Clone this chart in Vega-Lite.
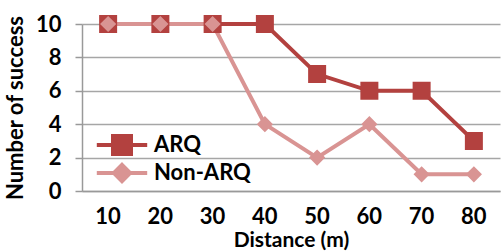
{
  "$schema": "https://vega.github.io/schema/vega-lite/v6.json",
  "width": 418,
  "height": 167,
  "autosize": {"type": "none"},
  "padding": {"left": 82, "top": 24, "right": 4, "bottom": 60},
  "background": "white",
  "config": {
    "view": {"stroke": null},
    "font": "Lato"
  },
  "data": {"values": [
    {"distance": "10", "series": "ARQ", "success": 10},
    {"distance": "20", "series": "ARQ", "success": 10},
    {"distance": "30", "series": "ARQ", "success": 10},
    {"distance": "40", "series": "ARQ", "success": 10},
    {"distance": "50", "series": "ARQ", "success": 7},
    {"distance": "60", "series": "ARQ", "success": 6},
    {"distance": "70", "series": "ARQ", "success": 6},
    {"distance": "80", "series": "ARQ", "success": 3},
    {"distance": "10", "series": "Non-ARQ", "success": 10},
    {"distance": "20", "series": "Non-ARQ", "success": 10},
    {"distance": "30", "series": "Non-ARQ", "success": 10},
    {"distance": "40", "series": "Non-ARQ", "success": 4},
    {"distance": "50", "series": "Non-ARQ", "success": 2},
    {"distance": "60", "series": "Non-ARQ", "success": 4},
    {"distance": "70", "series": "Non-ARQ", "success": 1},
    {"distance": "80", "series": "Non-ARQ", "success": 1}
  ]},
  "encoding": {
    "x": {"field": "distance", "type": "ordinal", "sort": null, "scale": {"type": "band", "paddingInner": 0, "paddingOuter": 0},
      "axis": {"title": "Distance (m)", "labelAngle": 0, "ticks": false, "grid": false, "domainColor": "#999", "domainWidth": 1.5, "labelPadding": 15, "titlePadding": 2, "labelFont": "Lato", "titleFont": "Lato", "labelFontWeight": "bold", "titleFontWeight": "bold", "labelFontSize": 22, "titleFontSize": 21, "labelColor": "#000", "titleColor": "#000"}},
    "y": {"field": "success", "type": "quantitative", "scale": {"domain": [0, 10], "nice": false},
      "axis": {"title": "Number of success", "values": [0, 2, 4, 6, 8, 10], "grid": true, "gridColor": "#A6A6A6", "gridWidth": 1.5, "domainColor": "#999", "domainWidth": 1.5, "tickColor": "#999", "tickWidth": 1.5, "tickSize": 7, "labelPadding": 14, "titlePadding": 8, "labelFont": "Lato", "titleFont": "Lato", "labelFontWeight": "bold", "titleFontWeight": "bold", "labelFontSize": 22, "titleFontSize": 22, "labelColor": "#000", "titleColor": "#000"}},
    "color": {"field": "series", "type": "nominal", "scale": {"domain": ["ARQ", "Non-ARQ"], "range": ["#B3413F", "#D99493"]},
      "legend": {"title": null, "orient": "none", "legendX": 29, "legendY": 110, "symbolSize": 324, "labelFontSize": 22, "labelFontWeight": "bold", "labelFont": "Lato", "labelColor": "#000", "labelOffset": 21, "rowPadding": -9, "padding": 0,
        "encode": {"symbols": {"update": {"stroke": {"scale": "color", "field": "value"}, "strokeWidth": {"value": 4}, "fill": {"scale": "color", "field": "value"}, "opacity": {"value": 1}}}}}}
  },
  "layer": [
    {"mark": {"type": "line", "strokeWidth": 4}},
    {"mark": {"type": "point", "filled": true, "opacity": 1, "size": 324, "strokeWidth": 0},
      "encoding": {
        "shape": {"field": "series", "type": "nominal", "scale": {"domain": ["ARQ", "Non-ARQ"], "range": ["M-2.8,0H2.8M-1,-1H1V1H-1Z", "M-2.8,0H2.8M0,-0.9L0.9,0L0,0.9L-0.9,0Z"]},
          "legend": {"title": null, "orient": "none", "legendX": 29, "legendY": 110, "symbolSize": 324, "labelFontSize": 22, "labelFontWeight": "bold", "labelFont": "Lato", "labelColor": "#000", "labelOffset": 21, "rowPadding": -9, "padding": 0,
            "encode": {"symbols": {"update": {"stroke": {"scale": "color", "field": "value"}, "strokeWidth": {"value": 4}, "fill": {"scale": "color", "field": "value"}, "opacity": {"value": 1}}}}}}
      }
    }
  ]
}
